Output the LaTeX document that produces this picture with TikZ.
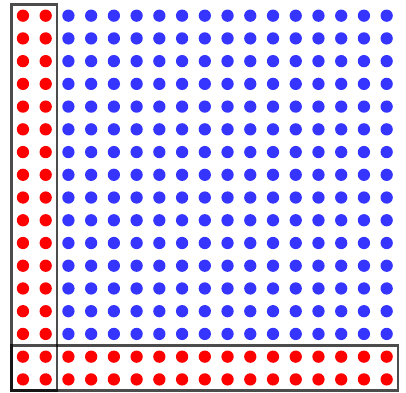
\documentclass[tikz,border=0pt]{standalone}
\usepackage{tikz}
\usetikzlibrary{calc}
\definecolor{mred}{HTML}{FF0000}
\definecolor{mblue}{HTML}{3535FF}
\definecolor{mframe}{HTML}{000000}
\tikzset{
  rdot/.style={fill=mred},
  bdot/.style={fill=mblue},
  frame/.style={draw=mframe, draw opacity=0.7, line width=2.6pt},
}
\begin{document}
\begin{tikzpicture}[scale=0.8]

  \useasboundingbox (-1.01,-0.56) rectangle (16.85,16.69);

  %% Blue interior
  \foreach \x in {2,...,16}{
    \foreach \y in {2,...,16}{
      \fill[bdot] (\x,\y) circle (0.27);
    }
  }
  % Red left columns
  \foreach \x in {0,1}{
    \foreach \y in {2,...,16}{
      \fill[rdot] (\x,\y) circle (0.27);
    }
  }
  % Red bottom rows
  \foreach \x in {0,...,16}{
    \foreach \y in {0,1}{
      \fill[rdot] (\x,\y) circle (0.27);
    }
  }

  %% Frames
  \draw[frame] (-0.5,-0.5) rectangle (1.5,16.5);
  \draw[frame] (-0.5,-0.5) rectangle (16.5,1.5);

\end{tikzpicture}
\end{document}
